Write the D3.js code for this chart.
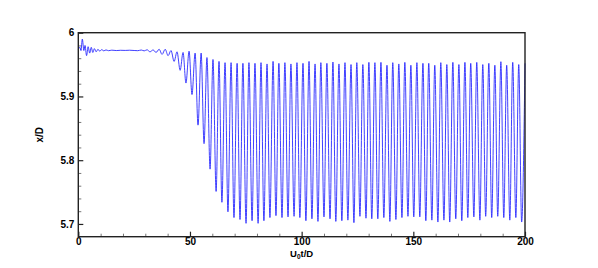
<!DOCTYPE html>
<html>
<head>
<meta charset="utf-8">
<script src="https://cdn.jsdelivr.net/npm/d3@7"></script>
<style>
  body { margin: 0; background: #fff; }
  svg text { font-family: "Liberation Sans", Arial, sans-serif; font-weight: bold; }
</style>
</head>
<body>
<script>
// start-up transient (U0t/D, x/D)
var startT = [0, 0.7, 1.2, 1.8, 2.5, 3.0, 3.7, 4.4, 5.1, 5.8, 6.5, 7.2, 8.0, 8.8, 9.6, 10.5, 11.4, 12.4, 13.5, 15, 17, 19, 21, 23, 25, 26.6, 28.2]
var startX = [5.974, 5.977, 5.972, 5.990, 5.972, 5.980, 5.964, 5.978, 5.968, 5.977, 5.969, 5.975, 5.970, 5.974, 5.971, 5.9735, 5.9715, 5.973, 5.9718, 5.9726, 5.972, 5.9724, 5.9722, 5.9725, 5.9721, 5.9718, 5.9728]

// oscillation minima
var troughT = [29.5, 32.1, 34.8, 37.5, 40.2, 42.9, 45.6, 48.2, 50.9, 53.6, 56.3, 59.0, 61.7, 64.3, 67.0, 69.7,
  72.4, 75.1, 77.8, 80.5, 83.1, 85.8, 88.5, 91.2, 93.9, 96.6, 99.2, 101.9, 104.6, 107.3, 110.0, 112.7,
  115.3, 118.0, 120.7, 123.4, 126.1, 128.8, 131.4, 134.1, 136.8, 139.5, 142.2, 144.9, 147.6, 150.2, 152.9, 155.6,
  158.3, 161.0, 163.7, 166.3, 169.0, 171.7, 174.4, 177.1, 179.8, 182.4, 185.1, 187.8, 190.5, 193.2, 195.9, 198.5]
var troughX = [5.9715, 5.970, 5.969, 5.966, 5.964, 5.955, 5.941, 5.921, 5.903, 5.855, 5.826, 5.786, 5.751, 5.734, 5.719, 5.710,
  5.707, 5.701, 5.705, 5.701, 5.705, 5.710, 5.713, 5.710, 5.711, 5.712, 5.710, 5.705, 5.708, 5.704, 5.711, 5.708,
  5.704, 5.705, 5.706, 5.702, 5.712, 5.709, 5.708, 5.708, 5.710, 5.704, 5.707, 5.710, 5.712, 5.711, 5.711, 5.705,
  5.706, 5.703, 5.706, 5.703, 5.708, 5.705, 5.710, 5.711, 5.706, 5.712, 5.710, 5.712, 5.710, 5.706, 5.710, 5.703]

// oscillation maxima
var peakT = [30.8, 33.5, 36.2, 38.9, 41.5, 44.2, 46.9, 49.6, 52.3, 55.0, 57.6, 60.3, 63.0, 65.7, 68.4, 71.1,
  73.7, 76.4, 79.1, 81.8, 84.5, 87.2, 89.8, 92.5, 95.2, 97.9, 100.6, 103.3, 106.0, 108.6, 111.3, 114.0,
  116.7, 119.4, 122.1, 124.7, 127.4, 130.1, 132.8, 135.5, 138.2, 140.8, 143.5, 146.2, 148.9, 151.6, 154.3, 156.9,
  159.6, 162.3, 165.0, 167.7, 170.4, 173.1, 175.7, 178.4, 181.1, 183.8, 186.5, 189.2, 191.8, 194.5, 197.2, 200.0]
var peakX = [5.9732, 5.973, 5.974, 5.974, 5.972, 5.970, 5.969, 5.971, 5.968, 5.968, 5.961, 5.958, 5.955, 5.953, 5.953, 5.952,
  5.952, 5.953, 5.952, 5.953, 5.951, 5.955, 5.952, 5.953, 5.951, 5.953, 5.952, 5.955, 5.951, 5.953, 5.952, 5.954,
  5.951, 5.953, 5.950, 5.953, 5.950, 5.9535, 5.953, 5.9535, 5.949, 5.953, 5.951, 5.9535, 5.949, 5.953, 5.952, 5.952,
  5.949, 5.953, 5.950, 5.9535, 5.950, 5.9535, 5.952, 5.9535, 5.950, 5.952, 5.949, 5.9545, 5.949, 5.9535, 5.950, 5.952]

var xTicks = [0, 50, 100, 150, 200]
var yTicks = [5.7, 5.8, 5.9, 6]

var points = []
startT.forEach(function (t, i) { points.push([t, startX[i]]) })
troughT.forEach(function (t, i) { points.push([t, troughX[i]]) })
peakT.forEach(function (t, i) { points.push([t, peakX[i]]) })
points.sort(function (a, b) { return a[0] - b[0] })

var margin = { top: 32.7, right: 73, bottom: 31.3, left: 78.3 }
var W = 598, H = 268
var width = W - margin.left - margin.right
var height = H - margin.top - margin.bottom

var svg = d3.select('body').append('svg')
  .attr('width', W)
  .attr('height', H)

var x = d3.scaleLinear().domain([0, 200]).range([margin.left, margin.left + width])
var y = d3.scaleLinear().domain([5.68, 6]).range([margin.top + height, margin.top])

var xMinor = d3.range(10, 200, 10).filter(function (d) { return d % 50 !== 0 })
var yMinor = d3.range(5.72, 6, 0.02).filter(function (d) { return Math.abs(d * 10 - Math.round(d * 10)) > 1e-6 })

// minor ticks
svg.append('g')
  .attr('transform', 'translate(0,' + (margin.top + height) + ')')
  .call(d3.axisBottom(x).tickValues(xMinor).tickSize(-3).tickSizeOuter(0).tickFormat(''))
  .call(function (g) { g.select('.domain').remove() })
  .selectAll('line').attr('stroke', '#777')

svg.append('g')
  .attr('transform', 'translate(' + margin.left + ',0)')
  .call(d3.axisLeft(y).tickValues(yMinor).tickSize(-3).tickSizeOuter(0).tickFormat(''))
  .call(function (g) { g.select('.domain').remove() })
  .selectAll('line').attr('stroke', '#777')

// major ticks + labels
var gx = svg.append('g')
  .attr('transform', 'translate(0,' + (margin.top + height) + ')')
  .call(d3.axisBottom(x).tickValues(xTicks).tickSize(-5).tickSizeOuter(0).tickPadding(1.5).tickFormat(d3.format('d')))
gx.select('.domain').remove()
gx.selectAll('line').attr('stroke', '#222').attr('stroke-width', 1.2)
gx.selectAll('text').attr('font-size', 10).attr('fill', '#000')
  .style('font-family', '"Liberation Sans", Arial, sans-serif')

var gy = svg.append('g')
  .attr('transform', 'translate(' + margin.left + ',0)')
  .call(d3.axisLeft(y).tickValues(yTicks).tickSize(-5).tickSizeOuter(0).tickPadding(4).tickFormat(function (d) { return d3.format('')(+d.toFixed(1)) }))
gy.select('.domain').remove()
gy.selectAll('line').attr('stroke', '#222').attr('stroke-width', 1.2)
gy.selectAll('text').attr('font-size', 10).attr('fill', '#000')
  .style('font-family', '"Liberation Sans", Arial, sans-serif')

// signal
var line = d3.line()
  .x(function (d) { return x(d[0]) })
  .y(function (d) { return y(d[1]) })
  .curve(d3.curveMonotoneX)

svg.append('path')
  .datum(points)
  .attr('fill', 'none')
  .attr('stroke', '#2a2aff')
  .attr('stroke-width', 0.9)
  .attr('d', line)

// frame
svg.append('rect')
  .attr('x', margin.left)
  .attr('y', margin.top)
  .attr('width', width)
  .attr('height', height)
  .attr('fill', 'none')
  .attr('stroke', '#222')
  .attr('stroke-width', 1.4)

// axis titles
svg.append('text')
  .attr('transform', 'translate(43,' + (margin.top + height / 2) + ') rotate(-90)')
  .attr('text-anchor', 'middle')
  .attr('font-size', 10)
  .text('x/D')

var xt = svg.append('text')
  .attr('x', margin.left + width / 2)
  .attr('y', 256.5)
  .attr('text-anchor', 'middle')
  .attr('font-size', 9.5)
xt.append('tspan').text('U')
xt.append('tspan').attr('font-size', 6.5).attr('dy', 2.5).text('0')
xt.append('tspan').attr('dy', -2.5).text('t/D')
</script>
</body>
</html>
